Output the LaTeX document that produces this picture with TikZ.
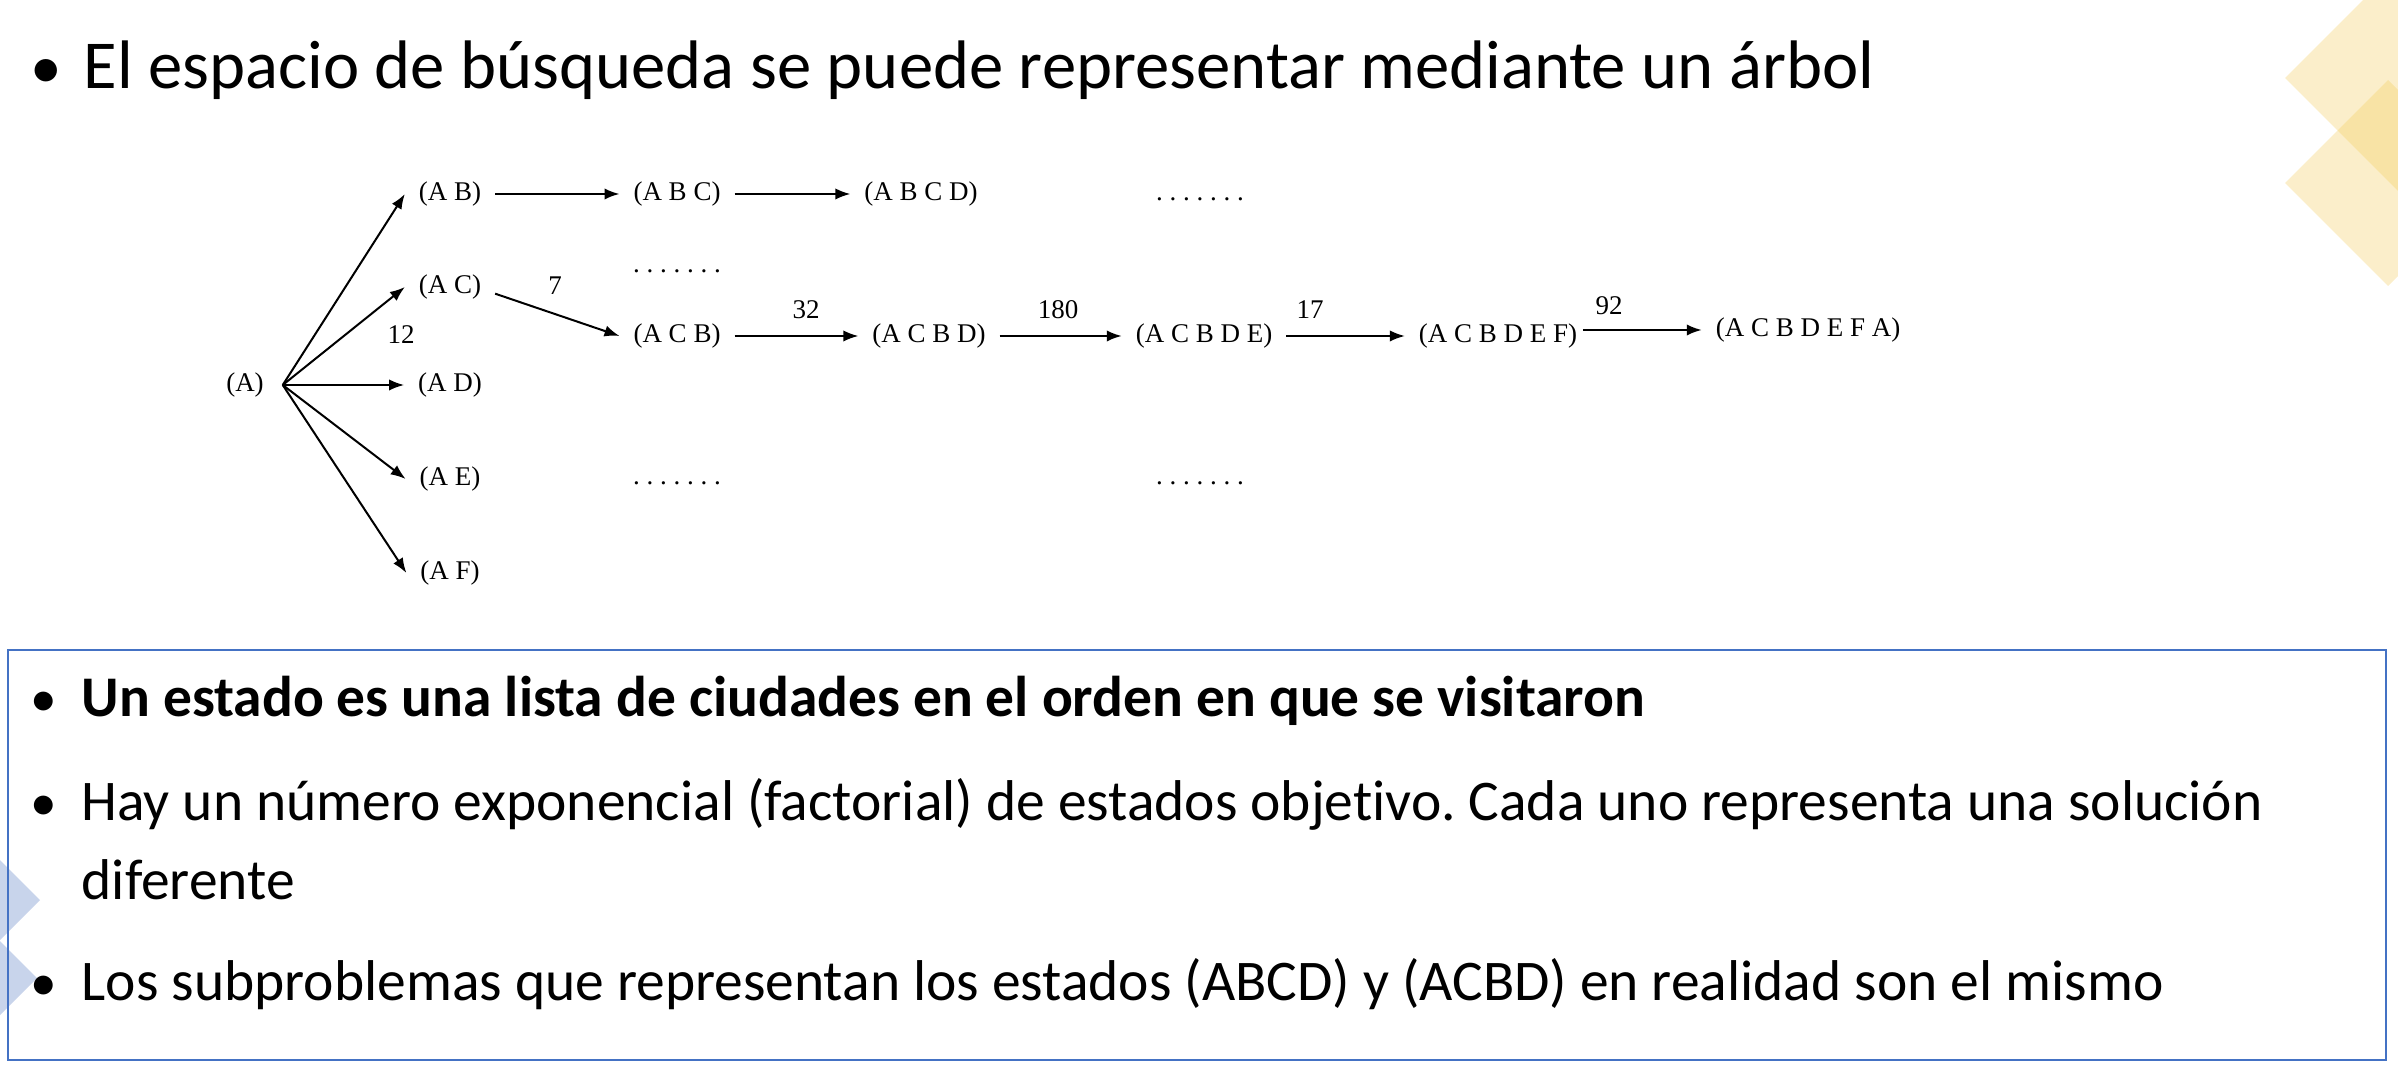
\documentclass[tikz,border=0pt]{standalone}
\usepackage{fontspec}
\setmainfont[Ligatures=NoCommon]{Carlito}
\newfontfamily\treefont{Liberation Serif}
\usetikzlibrary{arrows.meta}
\definecolor{boxblue}{HTML}{4472C4}
\definecolor{golddeco}{RGB}{242,200,80}
\definecolor{bluedeco}{RGB}{200,212,235}
\frenchspacing
\begin{document}
\begin{tikzpicture}[x=0.3pt,y=-0.3pt,
  st/.style={font=\treefont\fontsize{8.1}{9}\selectfont, inner xsep=4pt, inner ysep=1pt},
  lbl/.style={font=\treefont\fontsize{8.1}{9}\selectfont, inner sep=0pt},
  arr/.style={-{Latex[length=4.5pt,width=3.4pt]}, line width=0.6pt},
  bul/.style={anchor=base, inner sep=0pt},
  ttl/.style={font=\fontsize{20.6}{24}\selectfont, anchor=base west, inner sep=0pt},
  body/.style={font=\fontsize{17.25}{20}\selectfont, anchor=base west, inner sep=0pt}]
\useasboundingbox (0,0) rectangle (2398,1080);
\begin{scope}
\clip (0,0) rectangle (2398,1080);
\fill[golddeco, opacity=0.3] (2285,78) -- (2430,-67) -- (2575,78) -- (2430,223) -- cycle;
\fill[golddeco, opacity=0.3] (2285,183) -- (2388,80) -- (2491,183) -- (2388,286) -- cycle;
\fill[bluedeco] (-44,900) -- (-2,858) -- (40,900) -- (-2,942) -- cycle;
\fill[bluedeco] (-47,978) -- (-5,936) -- (37,978) -- (-5,1020) -- cycle;
\end{scope}
% title
\node[bul, font=\fontsize{19}{24}\selectfont] (tb) at (46,89) {•};
\node[ttl] (title) at (83,89) {El espacio de búsqueda se puede representar mediante un árbol};
% tree
\node[st, inner xsep=5.5pt] (A) at (245,385) {(A)};
\node[st] (AB) at (450,194) {(A B)};
\node[st] (AC) at (450,287) {(A C)};
\node[st] (AD) at (450,385) {(A D)};
\node[st] (AE) at (450,479) {(A E)};
\node[st] (AF) at (450,573) {(A F)};
\node[st] (ABC) at (677,194) {(A B C)};
\node[st] (ABCD) at (921,194) {(A B C D)};
\node[st] (d1) at (1200,199) {. . . . . . .};
\node[st] (d2) at (677,271) {. . . . . . .};
\node[st] (ACB) at (677,336) {(A C B)};
\node[st] (ACBD) at (929,336) {(A C B D)};
\node[st] (ACBDE) at (1204,336) {(A C B D E)};
\node[st] (ACBDEF) at (1498,336) {(A C B D E F)};
\node[st] (ACBDEFA) at (1808,330) {(A C B D E F A)};
\node[st] (d3) at (677,483) {. . . . . . .};
\node[st] (d4) at (1200,483) {. . . . . . .};
\node[lbl] (l12) at (401,335) {12};
\node[lbl] (l7) at (555,286) {7};
\node[lbl] (l32) at (806,310) {32};
\node[lbl] (l180) at (1058,310) {180};
\node[lbl] (l17) at (1310,310) {17};
\node[lbl] (l92) at (1609,306) {92};
\foreach \t in {AB,AC,AD,AE,AF} \draw[arr] (A.east) -- (\t.west);
\draw[arr] (AB) -- (ABC);
\draw[arr] (ABC) -- (ABCD);
\draw[arr] ([yshift=-2pt]AC.east) -- (ACB.west);
\draw[arr] (ACB) -- (ACBD);
\draw[arr] (ACBD) -- (ACBDE);
\draw[arr] (ACBDE) -- (ACBDEF);
\draw[arr, shorten <=-2.5pt] (ACBDEF.east |- ACBDEFA) -- (ACBDEFA.west);
% box
\draw[boxblue, line width=0.7pt] (8,650) rectangle (2386,1060);
\node[bul, font=\fontsize{16}{20}\selectfont] (b1) at (44,717) {•};
\node[body, font=\fontsize{17.25}{20}\selectfont\bfseries] (t1) at (81,717) {Un estado es una lista de ciudades en el orden en que se visitaron};
\node[bul, font=\fontsize{16}{20}\selectfont] (b2) at (44,820) {•};
\node[body] (t2) at (81,820) {Hay un número exponencial (factorial) de estados objetivo. Cada uno representa una solución};
\node[body] (t2b) at (81,899) {diferente};
\node[bul, font=\fontsize{16}{20}\selectfont] (b3) at (44,1000) {•};
\node[body] (t3) at (81,1000) {Los subproblemas que representan los estados (ABCD) y (ACBD) en realidad son el mismo};
\end{tikzpicture}
\end{document}
